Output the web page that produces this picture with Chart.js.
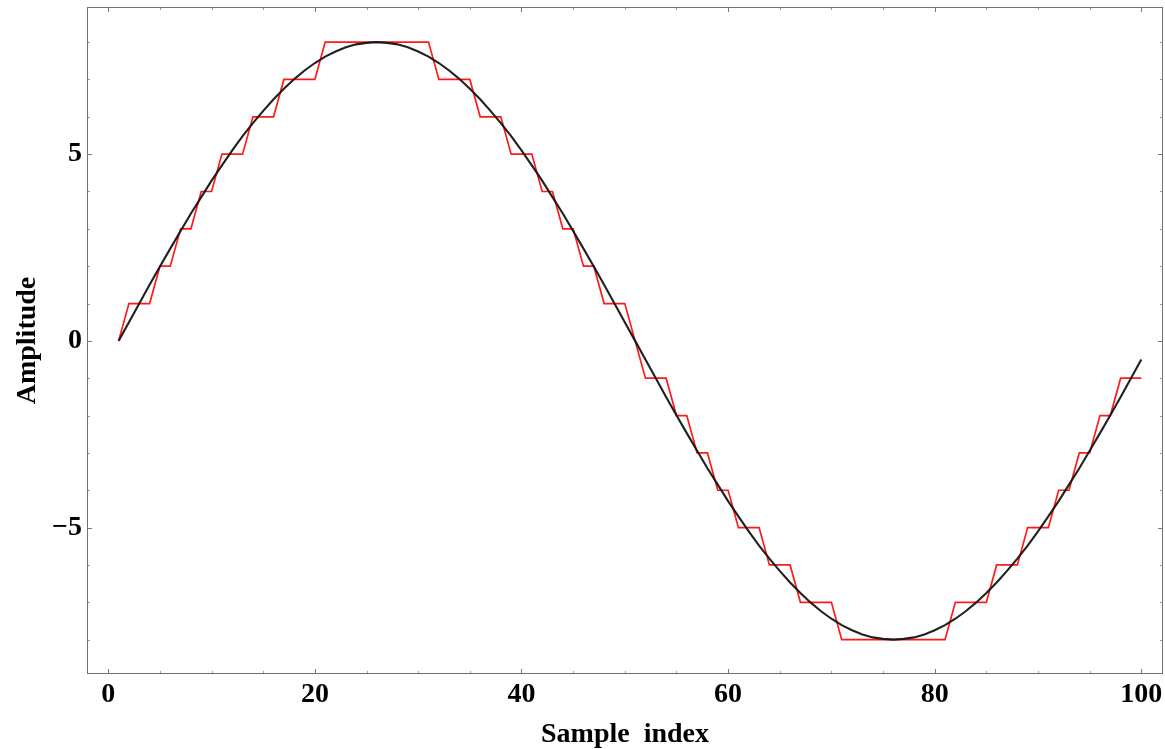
<!DOCTYPE html>
<html>
<head>
<meta charset="utf-8">
<title>Quantized sine</title>
<script src="https://cdn.jsdelivr.net/npm/chart.js@4.4.1/dist/chart.umd.min.js"></script>
<style>
  html, body { margin: 0; padding: 0; background: #fff; }
  #wrap { width: 1165px; height: 749px; }
</style>
</head>
<body>
<div id="wrap"><canvas id="quant" width="1165" height="749"></canvas></div>
<script>
var sampleIndex = [
    1, 2, 3, 4, 5, 6, 7, 8, 9, 10, 11, 12, 13, 14, 15, 16, 17, 18, 19, 20,
    21, 22, 23, 24, 25, 26, 27, 28, 29, 30, 31, 32, 33, 34, 35, 36, 37, 38, 39, 40,
    41, 42, 43, 44, 45, 46, 47, 48, 49, 50, 51, 52, 53, 54, 55, 56, 57, 58, 59, 60,
    61, 62, 63, 64, 65, 66, 67, 68, 69, 70, 71, 72, 73, 74, 75, 76, 77, 78, 79, 80,
    81, 82, 83, 84, 85, 86, 87, 88, 89, 90, 91, 92, 93, 94, 95, 96, 97, 98, 99, 100
];

// smooth signal (black)
var analogSignal = [
    0.00, 0.50, 1.00, 1.50, 1.99, 2.47, 2.94, 3.41, 3.85, 4.29,
    4.70, 5.10, 5.48, 5.83, 6.16, 6.47, 6.75, 7.01, 7.24, 7.44,
    7.61, 7.75, 7.86, 7.94, 7.98, 8.00, 7.98, 7.94, 7.86, 7.75,
    7.61, 7.44, 7.24, 7.01, 6.75, 6.47, 6.16, 5.83, 5.48, 5.10,
    4.70, 4.29, 3.85, 3.41, 2.94, 2.47, 1.99, 1.50, 1.00, 0.50,
    0.00, -0.50, -1.00, -1.50, -1.99, -2.47, -2.94, -3.41, -3.85, -4.29,
    -4.70, -5.10, -5.48, -5.83, -6.16, -6.47, -6.75, -7.01, -7.24, -7.44,
    -7.61, -7.75, -7.86, -7.94, -7.98, -8.00, -7.98, -7.94, -7.86, -7.75,
    -7.61, -7.44, -7.24, -7.01, -6.75, -6.47, -6.16, -5.83, -5.48, -5.10,
    -4.70, -4.29, -3.85, -3.41, -2.94, -2.47, -1.99, -1.50, -1.00, -0.50
];

// quantized signal (red staircase)
var quantizedSignal = [
    0, 1, 1, 1, 2, 2, 3, 3, 4, 4,
    5, 5, 5, 6, 6, 6, 7, 7, 7, 7,
    8, 8, 8, 8, 8, 8, 8, 8, 8, 8,
    8, 7, 7, 7, 7, 6, 6, 6, 5, 5,
    5, 4, 4, 3, 3, 2, 2, 1, 1, 1,
    0, -1, -1, -1, -2, -2, -3, -3, -4, -4,
    -5, -5, -5, -6, -6, -6, -7, -7, -7, -7,
    -8, -8, -8, -8, -8, -8, -8, -8, -8, -8,
    -8, -7, -7, -7, -7, -6, -6, -6, -5, -5,
    -5, -4, -4, -3, -3, -2, -2, -1, -1, -1
];

var xMajorTicks = [0, 20, 40, 60, 80, 100];
var xTickLabels = ['0', '20', '40', '60', '80', '100'];
var xMinorTicks = [5, 10, 15, 25, 30, 35, 45, 50, 55, 65, 70, 75, 85, 90, 95];
var yMajorTicks = [-5, 0, 5];
var yTickLabels = ['\u22125', '0', '5'];
var yMinorTicks = [-8, -7, -6, -4, -3, -2, -1, 1, 2, 3, 4, 6, 7, 8];

var FONT_FAMILY = '"Liberation Serif", "Times New Roman", serif';

function toPoints(values) {
    return values.map(function (v, i) {
        return {x: sampleIndex[i], y: v};
    });
}

// Mathematica-like frame: box on all four sides, ticks pointing inward
var frameTicks = {
    id: 'frameTicks',
    afterDatasetsDraw: function (chart) {
        var ctx = chart.ctx;
        var a = chart.chartArea;
        var xs = chart.scales.x;
        var ys = chart.scales.y;

        ctx.save();
        ctx.lineWidth = 1;

        function tickX(v, len, color) {
            var px = Math.round(xs.getPixelForValue(v)) + 0.5;
            ctx.strokeStyle = color;
            ctx.beginPath();
            ctx.moveTo(px, a.bottom);
            ctx.lineTo(px, a.bottom - len);
            ctx.moveTo(px, a.top);
            ctx.lineTo(px, a.top + len);
            ctx.stroke();
        }
        function tickY(v, len, color) {
            var py = Math.round(ys.getPixelForValue(v)) + 0.5;
            ctx.strokeStyle = color;
            ctx.beginPath();
            ctx.moveTo(a.left, py);
            ctx.lineTo(a.left + len, py);
            ctx.moveTo(a.right, py);
            ctx.lineTo(a.right - len, py);
            ctx.stroke();
        }

        xMinorTicks.forEach(function (v) { tickX(v, 3, '#9a9a9a'); });
        xMajorTicks.forEach(function (v) { tickX(v, 5, '#7a7a7a'); });
        yMinorTicks.forEach(function (v) { tickY(v, 3, '#9a9a9a'); });
        yMajorTicks.forEach(function (v) { tickY(v, 5, '#7a7a7a'); });

        ctx.strokeStyle = '#707070';
        ctx.strokeRect(a.left + 0.5, a.top + 0.5, a.right - a.left - 1, a.bottom - a.top - 1);
        ctx.restore();
    }
};

var config = {
    type: 'line',
    data: {
        datasets: [
            {
                label: 'Signal',
                data: toPoints(analogSignal),
                borderColor: 'rgba(20,20,20,0.95)',
                borderWidth: 2.1,
                pointRadius: 0,
                tension: 0
            },
            {
                label: 'Quantized',
                data: toPoints(quantizedSignal),
                borderColor: '#ff1a1a',
                borderWidth: 1.7,
                pointRadius: 0,
                tension: 0
            }
        ]
    },
    options: {
        responsive: false,
        animation: false,
        layout: {
            padding: {top: 7, right: 2, left: 0, bottom: 0}
        },
        plugins: {
            legend: {display: false},
            tooltip: {enabled: false}
        },
        scales: {
            x: {
                type: 'linear',
                min: -2.06,
                max: 102.1,
                afterFit: function (scale) {
                    scale.height = 75;
                    scale.paddingLeft = 0;
                    scale.paddingRight = 0;
                },
                grid: {display: false, drawTicks: false},
                border: {display: false},
                ticks: {
                    stepSize: 5,
                    includeBounds: false,
                    autoSkip: false,
                    maxRotation: 0,
                    padding: 4,
                    color: '#000',
                    font: {family: FONT_FAMILY, size: 28, weight: 'bold'},
                    callback: function (value) {
                        var i = xMajorTicks.indexOf(value);
                        return i >= 0 ? xTickLabels[i] : '';
                    }
                },
                title: {
                    display: true,
                    text: 'Sample  index',
                    color: '#000',
                    padding: {top: 0, bottom: -3},
                    font: {family: FONT_FAMILY, size: 28, weight: 'bold'}
                }
            },
            y: {
                type: 'linear',
                min: -8.92,
                max: 8.94,
                afterFit: function (scale) {
                    scale.width = 87;
                    scale.paddingTop = 0;
                    scale.paddingBottom = 0;
                },
                grid: {display: false, drawTicks: false},
                border: {display: false},
                ticks: {
                    stepSize: 1,
                    includeBounds: false,
                    autoSkip: false,
                    padding: 5,
                    color: '#000',
                    font: {family: FONT_FAMILY, size: 28, weight: 'bold'},
                    callback: function (value) {
                        var i = yMajorTicks.indexOf(value);
                        return i >= 0 ? yTickLabels[i] : '';
                    }
                },
                title: {
                    display: true,
                    text: 'Amplitude',
                    color: '#000',
                    padding: {top: 11, bottom: 0},
                    font: {family: FONT_FAMILY, size: 28, weight: 'bold'}
                }
            }
        }
    },
    plugins: [frameTicks]
};

var graphic = new Chart(document.getElementById('quant'), config);
</script>
</body>
</html>
